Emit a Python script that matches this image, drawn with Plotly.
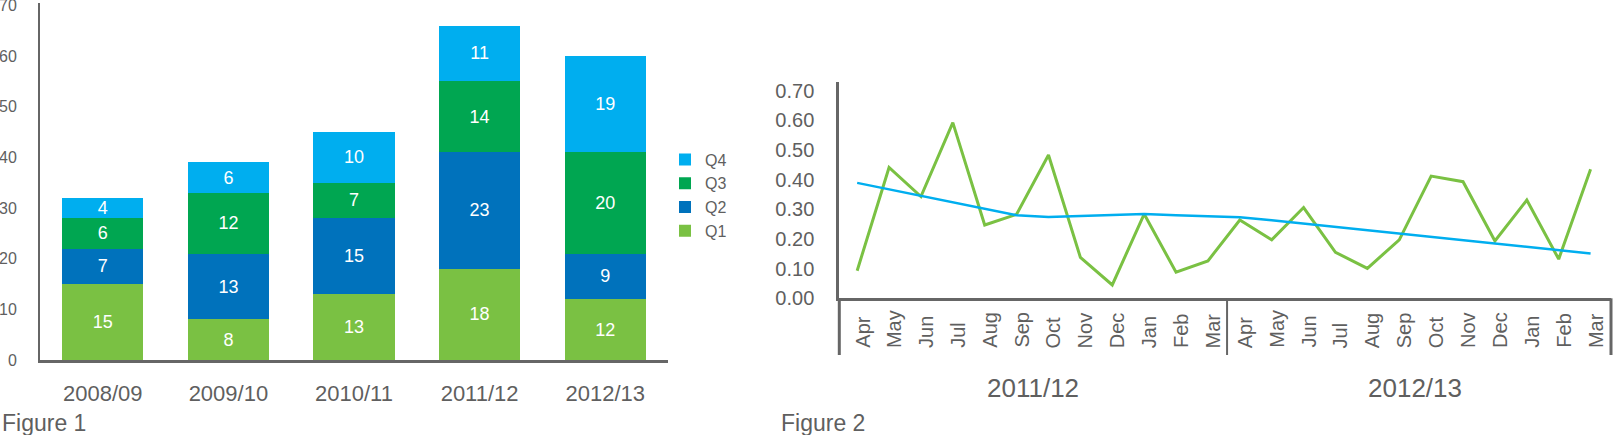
import plotly.graph_objects as go

# ---------------- data ----------------
years = ["2008/09", "2009/10", "2010/11", "2011/12", "2012/13"]
q1 = [15, 8, 13, 18, 12]
q2 = [7, 13, 15, 23, 9]
q3 = [6, 12, 7, 14, 20]
q4 = [4, 6, 10, 11, 19]
quarter_names = ["Q1", "Q2", "Q3", "Q4"]
quarter_colors = ["#7AC143", "#0072BC", "#00A651", "#00AEEF"]

months = ["Apr", "May", "Jun", "Jul", "Aug", "Sep", "Oct", "Nov", "Dec", "Jan", "Feb", "Mar",
          "Apr", "May", "Jun", "Jul", "Aug", "Sep", "Oct", "Nov", "Dec", "Jan", "Feb", "Mar"]
fin_years = ["2011/12", "2012/13"]
monthly = [0.093, 0.441, 0.343, 0.592, 0.247, 0.283, 0.483, 0.138, 0.045, 0.284, 0.088, 0.126,
           0.264, 0.197, 0.306, 0.155, 0.101, 0.197, 0.412, 0.393, 0.193, 0.331, 0.132, 0.435]
trend = [0.389, 0.367, 0.345, 0.323, 0.302, 0.280, 0.274, 0.2775, 0.2806, 0.284, 0.2803, 0.2765,
         0.2728, 0.263, 0.252, 0.240, 0.229, 0.218, 0.207, 0.196, 0.184, 0.173, 0.162, 0.151]
y2_ticks = [0.0, 0.1, 0.2, 0.3, 0.4, 0.5, 0.6, 0.7]

# ---------------- helpers ----------------
W, H = 1615, 435
def px(xp):
    return xp / W
def py(yp):
    return 1 - yp / H

FONT = "Arial, Liberation Sans, sans-serif"
GREY = "#5f5f5f"
AXIS = "#666666"

fig = go.Figure()

series = [q1, q2, q3, q4]
for name, vals, col in zip(quarter_names, series, quarter_colors):
    fig.add_trace(go.Bar(
        x=years, y=vals, name=name, marker=dict(color=col, line=dict(width=0)),
        text=[str(v) for v in vals], textposition="inside", insidetextanchor="middle",
        textangle=0, constraintext="none",
        textfont=dict(color="white", size=18, family=FONT),
        xaxis="x", yaxis="y",
    ))

month_pos = list(range(len(months)))
fig.add_trace(go.Scatter(
    x=month_pos, y=monthly, mode="lines", line=dict(color="#7AC143", width=3),
    showlegend=False, xaxis="x2", yaxis="y2",
))
fig.add_trace(go.Scatter(
    x=month_pos, y=trend, mode="lines", line=dict(color="#00AEEF", width=2.5),
    showlegend=False, xaxis="x2", yaxis="y2",
))

annotations = []
for i, m in enumerate(months):
    annotations.append(dict(
        x=i, xref="x2", y=py(350), yref="paper", text=m, showarrow=False,
        textangle=-90, xanchor="center", yanchor="bottom", xshift=5,
        font=dict(size=20, color=GREY, family=FONT),
    ))
half = len(months) // len(fin_years)
for k, fy in enumerate(fin_years):
    annotations.append(dict(
        x=k * half + (half - 1) / 2, xref="x2", y=py(388), yref="paper", text=fy,
        showarrow=False, xanchor="center", yanchor="middle",
        font=dict(size=26, color=GREY, family=FONT),
    ))
annotations.append(dict(x=px(0), xref="paper", y=py(408), yref="paper", text="Figure 1",
                        showarrow=False, xanchor="left", yanchor="top",
                        font=dict(size=23, color=GREY, family=FONT)))
annotations.append(dict(x=px(779), xref="paper", y=py(408), yref="paper", text="Figure 2",
                        showarrow=False, xanchor="left", yanchor="top",
                        font=dict(size=23, color=GREY, family=FONT)))

shapes = [
    dict(type="line", xref="x2 domain", x0=0, x1=0, yref="paper", y0=py(355), y1=py(298.3),
         line=dict(color=AXIS, width=3)),
    dict(type="line", xref="x2 domain", x0=1, x1=1, yref="paper", y0=py(355), y1=py(298.3),
         line=dict(color=AXIS, width=3)),
    dict(type="line", xref="x2", x0=11.6, x1=11.6, yref="paper", y0=py(355), y1=py(298.3),
         line=dict(color=AXIS, width=2)),
]

fig.update_layout(
    width=W, height=H, margin=dict(l=0, r=0, t=0, b=0, pad=0, autoexpand=False),
    paper_bgcolor="white", plot_bgcolor="white",
    barmode="stack", bargap=0.355,
    font=dict(family=FONT, color=GREY),
    showlegend=True,
    legend=dict(traceorder="reversed", x=px(665), xanchor="left", y=py(195.5), yanchor="middle",
                font=dict(size=16, color=GREY, family=FONT), bgcolor="rgba(0,0,0,0)"),
    xaxis=dict(domain=[px(40), px(668)], showline=True, linecolor=AXIS, linewidth=3,
               showgrid=False, zeroline=False, ticks="", ticklabelstandoff=12, automargin=False,
               tickfont=dict(size=22, color=GREY, family=FONT), fixedrange=True),
    yaxis=dict(domain=[py(360), py(2.7)], range=[0, 70.5], showline=True, linecolor=AXIS,
               linewidth=2, showgrid=False, zeroline=False, ticks="", dtick=10, tick0=0,
               automargin=False, ticklabeloverflow="allow",
               ticklabelstandoff=18, tickfont=dict(size=16, color=GREY, family=FONT)),
    xaxis2=dict(domain=[px(839.3), px(1611)], range=[-0.56, 23.64], showline=True,
                linecolor=AXIS, linewidth=3, showgrid=False, zeroline=False, automargin=False,
                showticklabels=False, ticks="", anchor="y2"),
    yaxis2=dict(domain=[py(298.3), py(81.7)], range=[0, 0.73], showline=True, linecolor=AXIS,
                linewidth=3, showgrid=False, zeroline=False, ticks="", tickvals=y2_ticks,
                tickformat=".2f", ticklabelstandoff=18, anchor="x2", automargin=False,
                ticklabeloverflow="allow",
                tickfont=dict(size=20, color=GREY, family=FONT)),
    annotations=annotations, shapes=shapes,
    uniformtext=dict(minsize=18, mode="show"),
)

fig.write_html("out.html", config={"displayModeBar": False},
               post_script="document.body.style.margin='0';document.body.style.padding='0';")
